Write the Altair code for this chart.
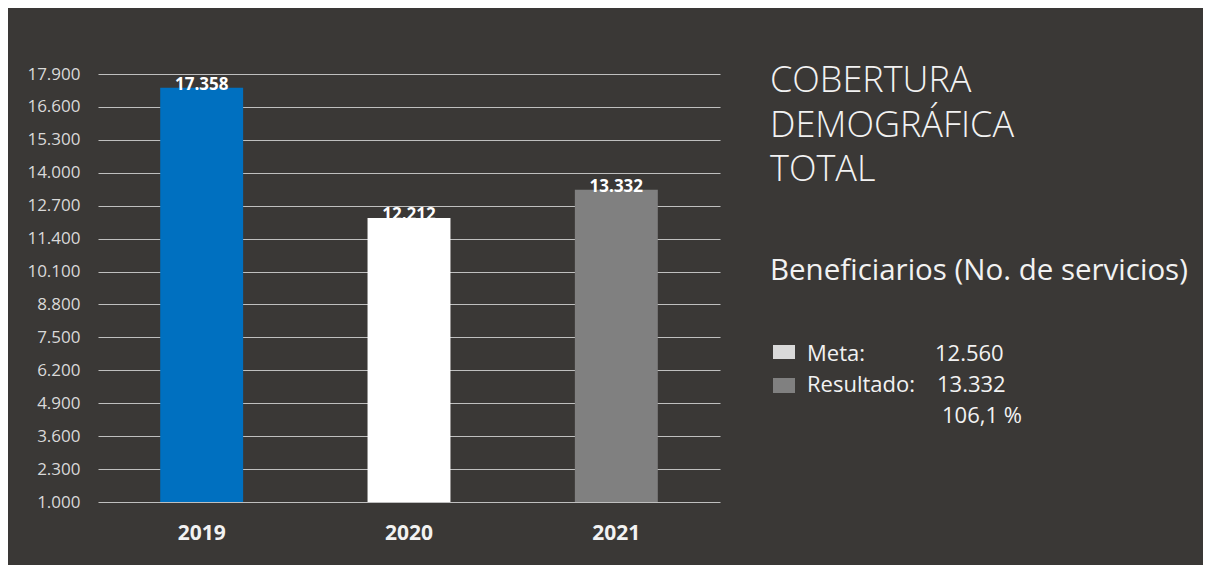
import altair as alt
import pandas as pd

# ---- data ----
years = ["2019", "2020", "2021"]
values = [17358, 12212, 13332]
bar_colors = ["#0070C0", "#FFFFFF", "#808080"]
y_ticks = [1000, 2300, 3600, 4900, 6200, 7500, 8800, 10100, 11400,
           12700, 14000, 15300, 16600, 17900]
title_lines = ["COBERTURA", "DEMOGRÁFICA", "TOTAL"]
subtitle = "Beneficiarios (No. de servicios)"
legend_labels = ["Meta:", "Resultado:"]
legend_values = [12560, 13332]
percent_text = "106,1 %"


def fmt(v):
    return f"{v:,}".replace(",", ".")


BG = "#3a3836"
FONT = "Open Sans"
DOT_FMT = "replace(format(datum.value, ','), ',', '.')"

bars_df = pd.DataFrame({"year": years, "value": values})
base = alt.Chart(bars_df)

y_scale = alt.Scale(domain=[y_ticks[0], y_ticks[-1]], nice=False, zero=False)

bars = base.mark_bar().encode(
    x=alt.X("year:N", sort=years, title=None,
            scale=alt.Scale(paddingInner=0.6, paddingOuter=0.3),
            axis=alt.Axis(labelAngle=0, ticks=False, domain=False, grid=False,
                          labelFont=FONT, labelFontSize=21, labelFontWeight="bold",
                          labelColor="#f2f2f2", labelPadding=20)),
    y=alt.Y("value:Q", scale=y_scale, title=None,
            axis=alt.Axis(values=y_ticks, tickCount=len(y_ticks) + 2,
                          labelExpr=DOT_FMT, ticks=False, domain=False,
                          grid=True, gridColor="#bfbfbf", gridWidth=1.2,
                          labelOverlap=False, labelFlush=False,
                          labelFont=FONT, labelFontSize=17, labelColor="#d9d9d9",
                          labelPadding=18)),
    y2=alt.datum(y_ticks[0]),
    color=alt.Color("year:N", scale=alt.Scale(domain=years, range=bar_colors), legend=None),
)

bar_labels = base.transform_calculate(
    label=DOT_FMT
).mark_text(
    baseline="alphabetic", dy=2, font=FONT, fontSize=17, fontWeight="bold", color="#ffffff"
).encode(
    x=alt.X("year:N", sort=years),
    y=alt.Y("value:Q", scale=y_scale),
    text="label:N",
)


def note(text, x, y, size, weight="normal", color="#f2f2f2", **kw):
    return alt.Chart(pd.DataFrame({"t": [text]})).mark_text(
        align="left", baseline="alphabetic", font=FONT, fontSize=size,
        fontWeight=weight, color=color, **kw
    ).encode(x=alt.value(x), y=alt.value(y), text="t:N")


def swatch(color, x, x2, y, y2):
    return alt.Chart(pd.DataFrame({"c": [0]})).mark_rect(color=color).encode(
        x=alt.value(x), x2=alt.value(x2), y=alt.value(y), y2=alt.value(y2)
    )


title_layers = [
    note(line, 672, 18 + 44.5 * i, 36, weight=300, color="#f2f2f2")
    for i, line in enumerate(title_lines)
]
sub_note = note(subtitle, 672, 206, 29.5)
sw1 = swatch("#d9d9d9", 675, 697, 271, 285)
sw2 = swatch("#808080", 675, 697, 304, 319)
l1 = note(legend_labels[0], 709, 287, 22)
v1 = note(fmt(legend_values[0]), 837, 287, 22)
l2 = note(legend_labels[1], 709, 318, 22)
v2 = note(fmt(legend_values[1]), 839, 318, 22)
pct = note(percent_text, 844, 349, 22)

chart = alt.layer(
    bars, bar_labels, *title_layers, sub_note, sw1, sw2, l1, v1, l2, v2, pct
).properties(
    width=622,
    height=428,
    padding={"left": 90, "top": 66, "right": 483, "bottom": 63},
    autosize=alt.AutoSizeParams(type="none"),
    background=BG,
).configure_view(strokeWidth=0)

chart.save("out.html", embed_options={"renderer": "svg", "actions": False})
